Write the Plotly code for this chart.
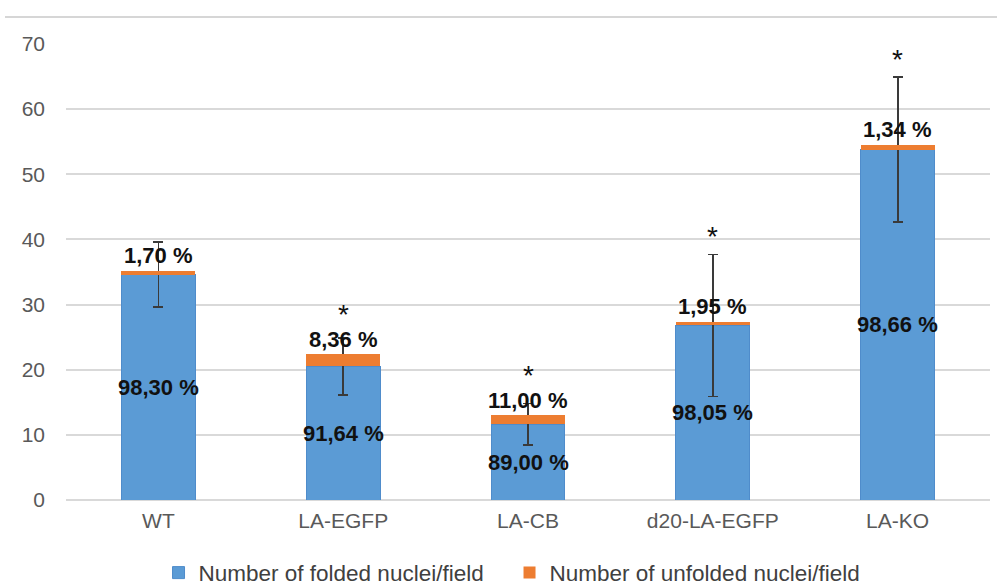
import plotly.graph_objects as go

categories = ["WT", "LA-EGFP", "LA-CB", "d20-LA-EGFP", "LA-KO"]
folded = [34.6, 20.5, 11.6, 26.8, 53.8]
unfolded = [0.6, 1.86, 1.43, 0.53, 0.72]
folded_err = [5.0, 4.4, 3.2, 10.9, 11.1]
folded_pct = ["98,30 %", "91,64 %", "89,00 %", "98,05 %", "98,66 %"]
unfolded_pct = ["1,70 %", "8,36 %", "11,00 %", "1,95 %", "1,34 %"]
significant = [False, True, True, True, True]

BLUE = "#5b9bd5"
ORANGE = "#ed7d31"
FONT = "Liberation Sans, Arial, sans-serif"

fig = go.Figure()
fig.add_trace(go.Bar(
    x=categories, y=folded, name="Number of folded nuclei/field",
    marker=dict(color=BLUE, line=dict(color="#4f8ccb", width=1)),
    error_y=dict(type="data", array=folded_err, color="#3a3a3a", thickness=1.8, width=5),
))
fig.add_trace(go.Bar(
    x=categories, y=unfolded, name="Number of unfolded nuclei/field",
    marker=dict(color=ORANGE, line=dict(width=0)),
))

label_font = dict(family=FONT, size=22, color="#111111")
for c, f, u, e, fp, up, s in zip(categories, folded, unfolded, folded_err,
                                 folded_pct, unfolded_pct, significant):
    total = f + u
    fig.add_annotation(x=c, y=f / 2, text="<b>%s</b>" % fp, showarrow=False,
                       font=label_font, yanchor="middle")
    fig.add_annotation(x=c, y=total, text="<b>%s</b>" % up, showarrow=False,
                       font=label_font, yanchor="middle", yshift=15)
    if s:
        anchor = max(f + e, total + 3.4)
        fig.add_annotation(x=c, y=anchor, text="*", showarrow=False,
                           font=dict(family=FONT, size=28, color="#111111"),
                           yanchor="bottom", yshift=0)

fig.add_shape(type="line", xref="paper", yref="paper", x0=-0.066, x1=1.01,
              y0=1.059, y1=1.059, line=dict(color="#c8c8c8", width=1.5))

fig.update_layout(
    barmode="stack",
    bargap=0.6,
    width=997, height=600,
    margin=dict(l=66, r=7, t=44, b=99),
    plot_bgcolor="white", paper_bgcolor="white",
    font=dict(family=FONT, size=20, color="#595959"),
    showlegend=True,
    legend=dict(orientation="h", x=0.48, xanchor="center", y=-0.1575, yanchor="middle",
                font=dict(family=FONT, size=22.5, color="#404040"),
                itemwidth=30, entrywidth=306, traceorder="normal"),
    xaxis=dict(showline=False, ticks="", ticklabelstandoff=6,
               tickfont=dict(size=21, color="#595959")),
    yaxis=dict(range=[0, 70], dtick=10, showgrid=True, gridcolor="#d9d9d9", gridwidth=1.5,
               zeroline=True, zerolinecolor="#d9d9d9", zerolinewidth=1.5,
               ticks="", tickfont=dict(size=21, color="#595959"), ticklabelstandoff=20),
)

fig.write_html("out.html", config={"displayModeBar": False},
               post_script="document.body.style.margin='0';document.body.style.overflow='hidden';")
